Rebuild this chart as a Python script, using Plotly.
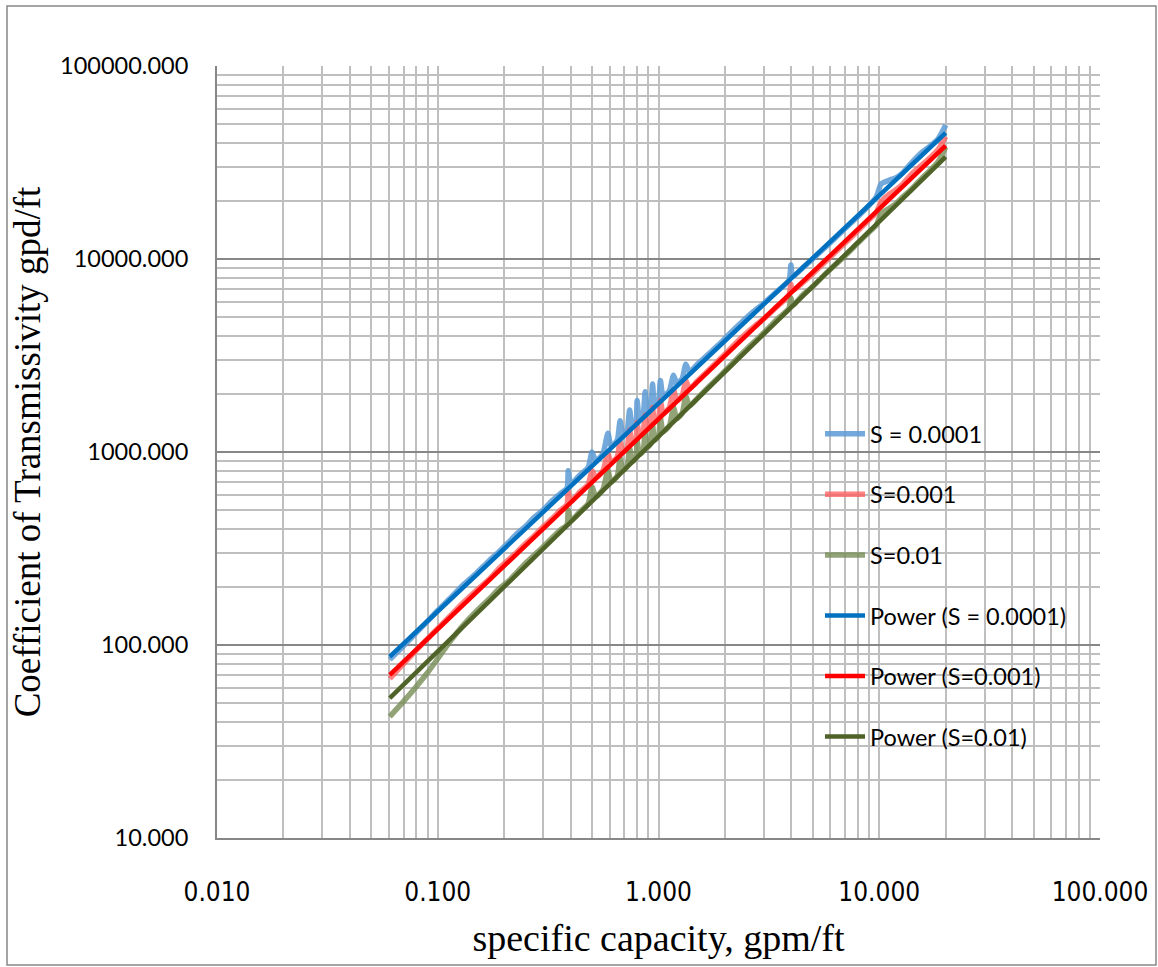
import plotly.graph_objects as go

# ---------------- data ----------------
sc = [0.0606, 0.07, 0.08, 0.09, 0.10, 0.115, 0.13, 0.15, 0.17, 0.19, 0.21, 0.23, 0.25, 0.27, 0.30,
      0.33, 0.36, 0.385, 0.39, 0.40, 0.44, 0.48, 0.50, 0.52, 0.56, 0.59, 0.61, 0.65, 0.67, 0.69,
      0.72, 0.74, 0.76, 0.79, 0.80, 0.82, 0.85, 0.87, 0.89, 0.92, 0.94, 0.96, 1.00, 1.02, 1.05,
      1.12, 1.17, 1.21, 1.28, 1.33, 1.38, 1.5, 1.7, 1.9, 2.1, 2.4, 2.7, 3.0, 3.4, 3.9, 3.98, 4.05,
      4.5, 5.0, 5.6, 6.3, 7.0, 8.0, 9.0, 9.7, 10.2, 11.0, 12.0, 12.8, 14.0, 15.5, 17.0, 18.5, 20.0]

t_s0001 = [84, 99, 116, 133, 151, 177, 204, 236, 272, 305, 342, 380, 412, 452, 500,
           560, 610, 650, 800, 680, 760, 830, 1000, 900, 980, 1250, 1070, 1150, 1450, 1230,
           1290, 1650, 1360, 1420, 1850, 1480, 1540, 2050, 1620, 1680, 2250, 1760, 1840, 2350, 1940,
           2080, 2500, 2260, 2400, 2850, 2600, 2850, 3250, 3650, 4100, 4750, 5350, 5900, 6700, 7750, 9300, 8100,
           9000, 10000, 11300, 12800, 14400, 16600, 19000, 21000, 24500, 25500, 26500, 28000, 31500, 35500, 38500, 42000, 49400]

t_s001 = [67, 80, 94, 108, 122, 143, 165, 192, 218, 250, 278, 305, 336, 362, 410,
          452, 500, 535, 620, 555, 620, 680, 800, 740, 800, 980, 880, 945, 1130, 1000,
          1050, 1300, 1110, 1160, 1420, 1210, 1260, 1550, 1320, 1370, 1700, 1430, 1500, 1850, 1580,
          1700, 2100, 1850, 1960, 2350, 2130, 2330, 2680, 3030, 3400, 3950, 4450, 4900, 5600, 6500, 7400, 6850,
          7550, 8400, 9500, 10800, 12100, 14000, 16000, 17400, 19800, 21500, 23000, 24500, 27500, 30500, 33500, 37000, 43000]

t_s01 = [42.5, 51, 61, 72, 85, 106, 126, 150, 172, 196, 215, 240, 265, 288, 322,
         360, 395, 420, 500, 440, 490, 540, 660, 585, 640, 800, 700, 750, 930, 800,
         840, 1050, 890, 930, 1150, 970, 1010, 1250, 1060, 1100, 1380, 1155, 1210, 1500, 1275,
         1370, 1700, 1490, 1590, 1950, 1730, 1900, 2190, 2480, 2780, 3250, 3700, 4150, 4800, 5550, 6300, 5750,
         6500, 7200, 8200, 9300, 10400, 12100, 13800, 15000, 17200, 18200, 19500, 21000, 23000, 26000, 28800, 32000, 38000]

# power trend lines (end points)
trend_x = [0.0606, 20.0]
trend_s0001 = [87, 45000]
trend_s001 = [70, 38700]
trend_s01 = [53, 33800]

series_names = ["S = 0.0001", "S=0.001", "S=0.01"]
trend_names = ["Power (S = 0.0001)", "Power (S=0.001)", "Power (S=0.01)"]

x_ticks = [0.01, 0.1, 1, 10, 100]
y_ticks = [10, 100, 1000, 10000, 100000]

# ---------------- figure ----------------
light_colors = ["rgba(91,155,213,0.85)", "rgba(255,90,90,0.75)", "rgba(119,141,85,0.8)"]
dark_colors = ["#0070C0", "#FF0000", "#4F6228"]

fig = go.Figure()
for i, (name, ys) in enumerate(zip(series_names, [t_s0001, t_s001, t_s01])):
    fig.add_trace(go.Scatter(x=sc, y=ys, mode="lines", name=name,
                             line=dict(color=light_colors[i], width=5.5, shape="spline", smoothing=0.6),
                             legendgroup=f"g{i}"))
for i, (name, ys) in enumerate(zip(trend_names, [trend_s0001, trend_s001, trend_s01])):
    fig.add_trace(go.Scatter(x=trend_x, y=ys, mode="lines", name=name,
                             line=dict(color=dark_colors[i], width=4.5),
                             legendgroup=f"t{i}"))

grid_light = "#BFBFBF"
grid_dark = "#878787"

fig.update_xaxes(type="log", range=[-2, 2], tickmode="array", tickvals=x_ticks,
                 ticktext=[f"{v:.3f}" for v in x_ticks],
                 showgrid=True, gridcolor=grid_light, gridwidth=1.5,
                 minor=dict(dtick="D1", showgrid=True, gridcolor=grid_light, gridwidth=1.5, ticks=""),
                 showline=True, linecolor=grid_dark, linewidth=2,
                 ticks="", ticklabelstandoff=30, zeroline=False,
                 tickfont=dict(family="Liberation Sans Narrow, DejaVu Sans Condensed, Lato", size=26, color="#000"),
                 title=dict(text="specific capacity, gpm/ft",
                            font=dict(family="Liberation Serif, Times New Roman, serif", size=38, color="#000"),
                            standoff=18))
fig.update_yaxes(type="log", range=[1, 5], tickmode="array", tickvals=y_ticks,
                 ticktext=[f"{v:.3f}" for v in y_ticks],
                 showgrid=True, gridcolor=grid_dark, gridwidth=2,
                 minor=dict(dtick="D1", showgrid=True, gridcolor=grid_light, gridwidth=1.5, ticks=""),
                 showline=True, linecolor=grid_dark, linewidth=2,
                 ticks="", ticklabelstandoff=22, zeroline=False,
                 tickfont=dict(family="Lato, Open Sans, sans-serif", size=23.5, color="#000"),
                 title=dict(text="Coefficient of Transmissivity gpd/ft",
                            font=dict(family="Liberation Serif, Times New Roman, serif", size=37, color="#000"),
                            standoff=8))

W, H = 1158, 967
L, R, T, B = 217, 58, 66, 129
pw, ph = W - L - R, H - T - B

def px(xp):
    return (xp - L) / pw

def py(yp):
    return (H - B - yp) / ph

fig.add_shape(type="rect", xref="paper", yref="paper",
              x0=px(7), x1=px(1156), y0=py(965), y1=py(6),
              line=dict(color="#888888", width=1.5), fillcolor="rgba(0,0,0,0)", layer="below")

fig.update_layout(
    width=W, height=H,
    margin=dict(l=L, r=R, t=T, b=B, autoexpand=False),
    plot_bgcolor="white", paper_bgcolor="white",
    showlegend=True,
    legend=dict(x=px(820), y=py(412), xanchor="left", yanchor="top",
                bgcolor="rgba(0,0,0,0)", borderwidth=0,
                font=dict(family="Lato, Open Sans, sans-serif", size=23.5, color="#000"),
                tracegroupgap=27, itemwidth=40, traceorder="grouped"),
)

fig.write_html("out.html")
